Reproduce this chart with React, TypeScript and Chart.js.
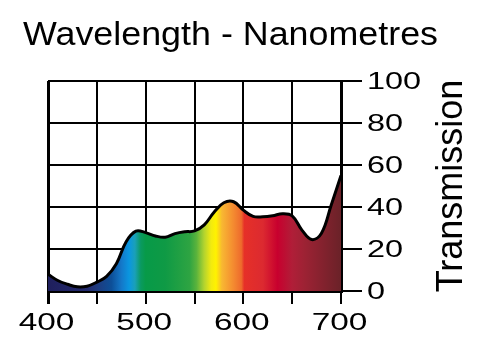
import React, { useEffect, useRef } from 'react';
import { Chart, registerables } from 'chart.js';

Chart.register(...registerables);

// ---- data ----
const wavelengths = [400, 410, 420, 430, 440, 450, 460, 470, 480, 490, 500, 510, 520, 530, 540, 550, 560, 570, 580, 590, 600, 610, 620, 630, 640, 650, 660, 670, 680, 690, 700];
const transmission = [8, 5, 3.2, 2, 2.3, 4.2, 7, 13, 23.5, 28.5, 27.8, 26.2, 25.6, 27.3, 28.2, 28.6, 31.5, 37.5, 42, 42.5, 38.5, 35.5, 35.3, 35.8, 36.8, 35.8, 29, 24.5, 27.5, 41, 55];
const xTickLabels = [400, 500, 600, 700];
const yTickLabels = [0, 20, 40, 60, 80, 100];
const titleText = 'Wavelength - Nanometres';
const yTitleText = 'Transmission';

// ---- style: spectrum colour stops (wavelength, colour) ----
const spectrumNm = [400, 440, 450, 465, 475, 483, 489, 495, 500, 520, 545, 552, 560, 567, 572, 578, 590, 598, 601, 620, 635, 650, 662, 700];
const spectrumColors = ['#1f1f5c', '#232a6e', '#1e3a7e', '#0d4f98', '#1477c8', '#0a96e0', '#1aa0b8', '#0a9a60', '#079a48', '#0f9a45', '#2ea442', '#5ab33c', '#b4d42e', '#f2ea10', '#fff200', '#f8b832', '#f48a30', '#ee6a2c', '#e63028', '#dc2a30', '#c8002e', '#b01e38', '#9e2234', '#6a2228'];

const FONT = '"Liberation Sans", Arial, Helvetica, sans-serif';

const textPlugin = {
  id: 'customTexts',
  afterDraw(chart: any) {
    const ctx = chart.ctx as CanvasRenderingContext2D;
    const xs = chart.scales.x;
    const ys = chart.scales.y;
    ctx.save();
    ctx.fillStyle = '#000';

    // Title
    ctx.font = `34px ${FONT}`;
    ctx.textAlign = 'left';
    ctx.textBaseline = 'alphabetic';
    const tw = ctx.measureText(titleText).width;
    const sx = 415 / tw;
    ctx.save();
    ctx.translate(23, 45);
    ctx.scale(sx, 1);
    ctx.fillText(titleText, 0, 0);
    ctx.restore();

    // X tick labels (stretched)
    ctx.font = `23.5px ${FONT}`;
    ctx.textAlign = 'center';
    ctx.textBaseline = 'alphabetic';
    for (const v of xTickLabels) {
      const px = xs.getPixelForValue(v) - 1.5;
      ctx.save();
      ctx.translate(px, 329.5);
      ctx.scale(1.42, 1);
      ctx.fillText(String(v), 0, 0);
      ctx.restore();
    }

    // Y tick labels (stretched, left aligned)
    ctx.textAlign = 'left';
    ctx.textBaseline = 'middle';
    for (const v of yTickLabels) {
      const py = ys.getPixelForValue(v) + 1.5;
      ctx.save();
      ctx.translate(367, py);
      ctx.scale(1.38, 1);
      ctx.fillText(String(v), 0, 0);
      ctx.restore();
    }

    // Y title rotated
    ctx.font = `36px ${FONT}`;
    ctx.textAlign = 'center';
    ctx.textBaseline = 'alphabetic';
    const cy = (ys.getPixelForValue(0) + ys.getPixelForValue(100)) / 2;
    ctx.translate(461.5, cy);
    ctx.rotate(-Math.PI / 2);
    ctx.fillText(yTitleText, 0, 0);
    ctx.restore();
  },
};

export default function App() {
  const canvasRef = useRef<HTMLCanvasElement | null>(null);

  useEffect(() => {
    const canvas = canvasRef.current;
    if (!canvas) return;
    const chart = new Chart(canvas, {
      type: 'line',
      data: {
        datasets: [
          {
            data: wavelengths.map((w, i) => ({ x: w, y: transmission[i] })),
            borderColor: '#000',
            borderWidth: 3,
            pointRadius: 0,
            fill: 'origin',
            tension: 0.4,
            backgroundColor: (c: any) => {
              const ch = c.chart;
              const xs = ch.scales && ch.scales.x;
              if (!xs || !ch.chartArea) return 'transparent';
              const x0 = xs.getPixelForValue(400);
              const x1 = xs.getPixelForValue(700);
              const g = ch.ctx.createLinearGradient(x0, 0, x1, 0);
              spectrumNm.forEach((nm, i) => {
                g.addColorStop((nm - 400) / 300, spectrumColors[i]);
              });
              return g;
            },
          },
        ],
      },
      options: {
        animation: false,
        responsive: false,
        maintainAspectRatio: false,
        layout: { padding: { left: 48, top: 81, right: 0, bottom: 0 } },
        plugins: {
          legend: { display: false },
          title: { display: false },
          tooltip: { enabled: false },
        },
        scales: {
          x: {
            type: 'linear',
            position: 'bottom',
            min: 400,
            max: 700,
            z: 1,
            ticks: { stepSize: 50, display: false },
            grid: {
              color: '#000',
              lineWidth: (c: any) => (c.tick && c.tick.value === 400 ? 3 : 2),
              tickLength: 13,
              drawTicks: true,
            },
            border: { color: '#000', width: 3 },
            afterFit: (s: any) => {
              s.height = 61;
            },
          },
          y: {
            type: 'linear',
            position: 'right',
            min: 0,
            max: 100,
            z: 1,
            ticks: { stepSize: 20, display: false },
            grid: { color: '#000', lineWidth: 2, tickLength: 21, drawTicks: true },
            border: { color: '#000', width: 3 },
            afterFit: (s: any) => {
              s.width = 159;
            },
          },
        },
      } as any,
      plugins: [textPlugin],
    });
    return () => chart.destroy();
  }, []);

  return (
    <div style={{ position: 'absolute', left: 0, top: 0, width: 500, height: 352, background: '#fff' }}>
      <canvas ref={canvasRef} width={500} height={352} style={{ width: 500, height: 352, display: 'block' }} />
    </div>
  );
}
